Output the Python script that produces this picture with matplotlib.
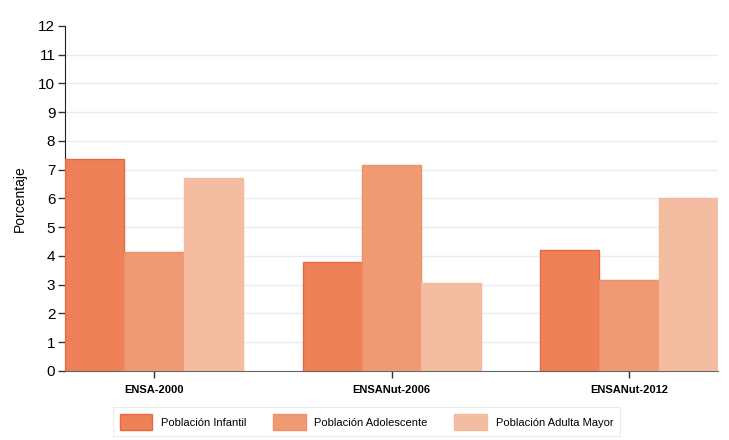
import numpy as np
import matplotlib
matplotlib.use("Agg")
import matplotlib.pyplot as plt

# Datos
encuestas = ['ENSA-2000', 'ENSANut-2006', 'ENSANut-2012']
infantil = [7.38, 3.78, 4.20]
adolescente = [4.13, 7.15, 3.15]
adulta_mayor = [6.70, 3.05, 6.00]
series_nombres = ['Población Infantil', 'Población Adolescente', 'Población Adulta Mayor']

colores = ['#EF8159', '#F09A73', '#F4BDA2']
bordes = ['#E8683F', '#EE9068', '#F4B89B']

plt.rcParams['font.family'] = ['Liberation Sans', 'DejaVu Sans']

fig = plt.figure(figsize=(7.29, 4.40), dpi=100)
ax = fig.add_axes([0.0892, 0.157, 0.896, 0.784])

x = np.arange(len(encuestas))
w = 0.25
for i, vals in enumerate([infantil, adolescente, adulta_mayor]):
    ax.bar(x + (i - 1) * w, vals, width=w, color=colores[i], edgecolor=bordes[i],
           linewidth=1, label=series_nombres[i], zorder=3)

ax.set_xlim(-0.375, 2.375)
ax.set_ylim(0, 12)
ax.set_yticks(range(0, 13))
ax.tick_params(axis='y', labelsize=11, length=5, width=1, color='#333333', pad=2)
ax.set_xticks(x)
ax.set_xticklabels(encuestas, fontsize=8, fontweight='bold')
ax.tick_params(axis='x', length=5, width=1, color='#333333', pad=5)
ax.set_ylabel('Porcentaje', fontsize=10, labelpad=8)

ax.grid(axis='y', color='#E6EDF0', linewidth=1, zorder=0)
ax.yaxis.get_gridlines()[-1].set_visible(False)
ax.spines['top'].set_visible(False)
ax.spines['right'].set_visible(False)
ax.spines['left'].set_color('#222222')
ax.spines['bottom'].set_color('#666666')

leg = fig.legend(loc='center', bbox_to_anchor=(0.503, 0.041), ncol=3, fontsize=8,
                 frameon=True, fancybox=False, edgecolor='#E4E8EA',
                 handlelength=2.9, handleheight=1.8, columnspacing=2.4,
                 borderpad=0.6, handletextpad=0.8)
leg.get_frame().set_linewidth(0.8)

fig.savefig('out.png', dpi=100)
